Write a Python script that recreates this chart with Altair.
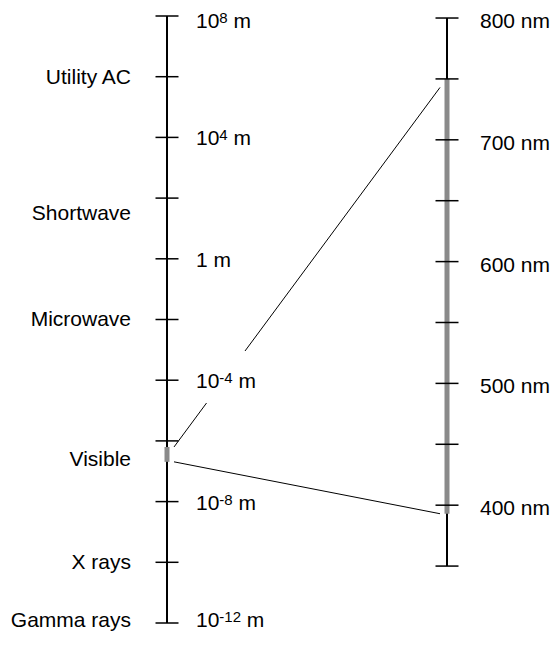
import altair as alt
import pandas as pd

# ---------------- data ----------------
# Left axis: wavelength as log10(metres)
left_ticks = [8, 6, 4, 2, 0, -2, -4, -6, -8, -10, -12]
left_value_exp = [8, 4, 0, -4, -8, -12]            # labelled powers of ten
left_value_label_pos = [7.88, 4, 0, -4, -8, -11.87]
band_names = ["Utility AC", "Shortwave", "Microwave", "Visible", "X rays", "Gamma rays"]
band_pos = [6, 1.5, -2, -6.6, -10, -11.91]
visible_log_m = [-6.2, -6.69]          # grey band on the left axis (top, bottom)

# Right axis: wavelength in nm (zoom on the visible band)
right_ticks = [800, 750, 700, 650, 600, 550, 500, 450, 400, 350]
right_label_nm = [800, 700, 600, 500, 400]
right_labels = ["800 nm", "700 nm", "600 nm", "500 nm", "400 nm"]
visible_nm = [750, 393]                 # grey band on the right axis (top, bottom)

# Connector lines: left end (log10 m) -> right end (nm)
conn_left_log_m = [-6.2, -6.69]
conn_right_nm = [743, 393]

# ---------------- layout ----------------
W, H = 542, 625
XL, XR = 159, 439          # axis columns
TH = 11.5                  # half tick length
X_NAME = 123               # right edge of band names
X_VAL = 188                # left edge of the metre labels
X_NM = 472                 # left edge of nm labels
X_C0, X_C1 = 166, 432      # connector ends
Y_DOMAIN = [-12.3295, 8.2636]
NM0, NM_PER_UNIT = 602.3, 24.92   # nm axis -> common vertical scale
FONT = "Liberation Sans"
FS, FS_SUP = 21, 15
# Arial/Liberation advance widths (em)
ADV = {"0": .556, "1": .556, "2": .556, "4": .556, "8": .556, "-": .333, " ": .278, "m": .833}


def text_w(s, fs):
    return sum(ADV[c] for c in s) * fs


xs = alt.Scale(domain=[0, W], nice=False, zero=False)
ys = alt.Scale(domain=Y_DOMAIN, nice=False, zero=False)


def X(f):
    return alt.X(f, type="quantitative", scale=xs, axis=None)


def Y(f):
    return alt.Y(f, type="quantitative", scale=ys, axis=None)


def nm_pos(nm):
    return (nm - NM0) / NM_PER_UNIT


# axis lines
axes_df = pd.DataFrame({
    "x": [XL, XR],
    "y": [left_ticks[0], nm_pos(right_ticks[0])],
    "y2": [left_ticks[-1], nm_pos(right_ticks[-1])],
})
axes = alt.Chart(axes_df).mark_rule(color="black", strokeWidth=2).encode(
    x=X("x"), y=Y("y"), y2="y2:Q")

# grey visible bands
band_df = pd.DataFrame({
    "x": [XL, XR],
    "y": [visible_log_m[0], nm_pos(visible_nm[0])],
    "y2": [visible_log_m[1], nm_pos(visible_nm[1])],
})
bands = alt.Chart(band_df).mark_rule(color="#8a8a8a", strokeWidth=5, strokeCap="butt").encode(
    x=X("x"), y=Y("y"), y2="y2:Q")

# ticks
tick_df = pd.DataFrame({
    "x": [XL - TH] * len(left_ticks) + [XR - TH] * len(right_ticks),
    "x2": [XL + TH] * len(left_ticks) + [XR + TH] * len(right_ticks),
    "y": list(left_ticks) + [nm_pos(v) for v in right_ticks],
})
ticks = alt.Chart(tick_df).mark_rule(color="black", strokeWidth=1.5).encode(
    x=X("x"), x2="x2:Q", y=Y("y"))

# connectors
conn_df = pd.DataFrame({
    "x": [X_C0, X_C0],
    "x2": [X_C1, X_C1],
    "y": conn_left_log_m,
    "y2": [nm_pos(v) for v in conn_right_nm],
})
conns = alt.Chart(conn_df).mark_rule(color="black", strokeWidth=1).encode(
    x=X("x"), x2="x2:Q", y=Y("y"), y2="y2:Q")

# white knock-out box behind the 10^-4 m label
ko_df = pd.DataFrame({"x": [X_VAL - 2], "x2": [X_VAL + 70], "y": [-3.04], "y2": [-4.75]})
knock = alt.Chart(ko_df).mark_rect(color="white").encode(
    x=X("x"), x2="x2:Q", y=Y("y"), y2="y2:Q")

# band names (left side)
names_df = pd.DataFrame({"x": X_NAME, "y": band_pos, "t": band_names})
names = alt.Chart(names_df).mark_text(
    align="right", baseline="middle", dy=1, font=FONT, fontSize=FS, color="black"
).encode(x=X("x"), y=Y("y"), text="t:N")

# metre labels: base "10", superscript exponent, unit "m"
rows_base, rows_sup, rows_unit = [], [], []
for e, yp in zip(left_value_exp, left_value_label_pos):
    if e == 0:
        base, sup = "1", ""
    else:
        base, sup = "10", str(e)
    x0 = X_VAL
    rows_base.append({"x": x0, "y": yp, "t": base})
    x1 = x0 + text_w(base, FS)
    if sup:
        rows_sup.append({"x": x1, "y": yp, "t": sup})
        x1 += text_w(sup, FS_SUP)
    rows_unit.append({"x": x1 + text_w(" ", FS), "y": yp, "t": "m"})

base_t = alt.Chart(pd.DataFrame(rows_base)).mark_text(
    align="left", baseline="alphabetic", dy=8, font=FONT, fontSize=FS, color="black"
).encode(x=X("x"), y=Y("y"), text="t:N")
sup_t = alt.Chart(pd.DataFrame(rows_sup)).mark_text(
    align="left", baseline="alphabetic", dy=3, font=FONT, fontSize=FS_SUP, color="black"
).encode(x=X("x"), y=Y("y"), text="t:N")
unit_t = alt.Chart(pd.DataFrame(rows_unit)).mark_text(
    align="left", baseline="alphabetic", dy=8, font=FONT, fontSize=FS, color="black"
).encode(x=X("x"), y=Y("y"), text="t:N")

# nm labels (right side)
nm_df = pd.DataFrame({"x": X_NM, "y": [nm_pos(v) for v in right_label_nm], "t": right_labels})
nms = alt.Chart(nm_df).mark_text(
    align="left", baseline="middle", font=FONT, fontSize=FS, color="black", dy=4
).encode(x=X("x"), y=Y("y"), text="t:N")

chart = alt.layer(axes, bands, ticks, conns, knock, names, base_t, sup_t, unit_t, nms).properties(
    width=W, height=H, padding=0, autosize="none"
).configure_view(stroke=None)

chart.save("out.html", embed_options={"renderer": "svg", "actions": False})
